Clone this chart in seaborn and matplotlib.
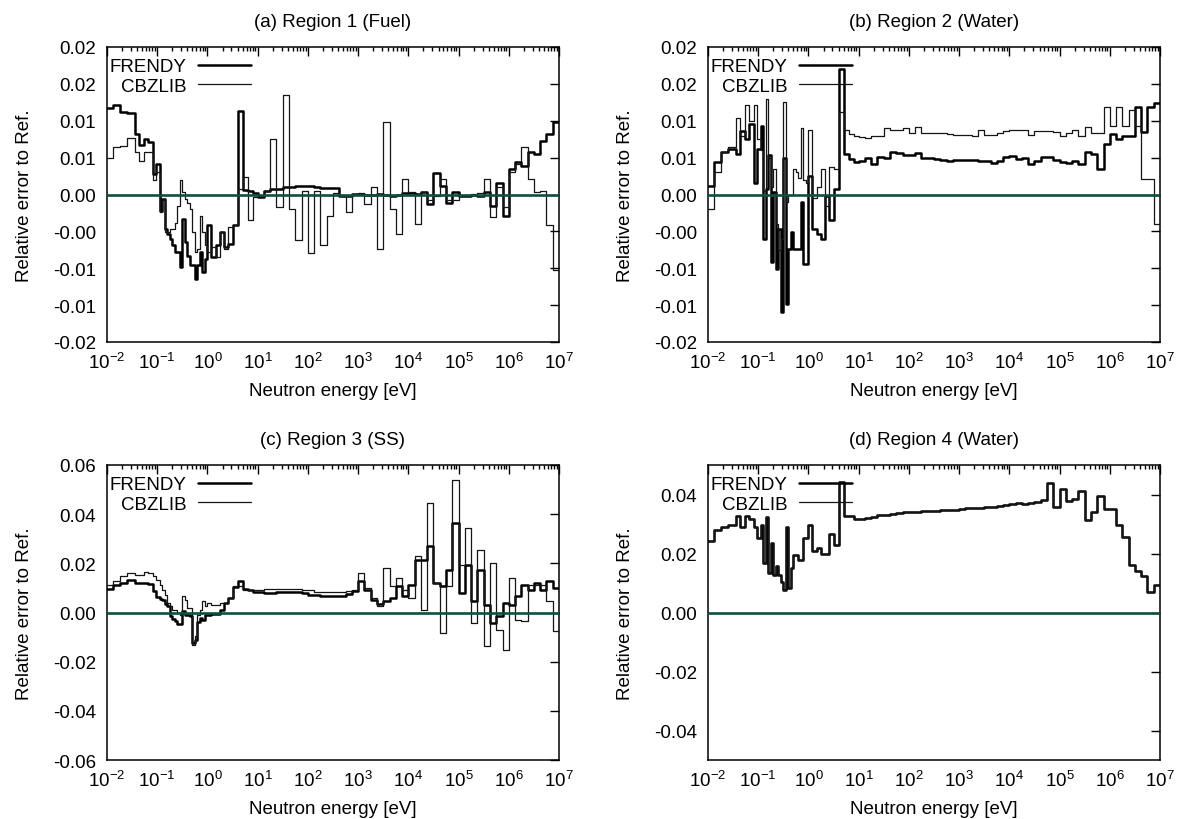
import numpy as np
import pandas as pd
import matplotlib
matplotlib.use("Agg")
import matplotlib.pyplot as plt
import seaborn as sns
from matplotlib.ticker import LogLocator, FixedLocator, FixedFormatter, NullFormatter, NullLocator

# ---------------- data ----------------
# group boundaries [eV]
edges = [0.01, 0.0129, 0.0178, 0.0251, 0.0355, 0.0437, 0.0550, 0.0646, 0.0832, 0.0955,
         0.112, 0.126, 0.141, 0.158, 0.178, 0.200, 0.224, 0.251, 0.282, 0.316,
         0.355, 0.398, 0.447, 0.501, 0.562, 0.631, 0.708, 0.794, 0.891, 1.00,
         1.20, 1.45, 1.74, 2.09, 2.51, 3.16, 3.98, 5.01, 6.31, 7.94, 10.0,
         13.3, 17.8, 23.7, 31.6, 42.2, 56.2, 75.0, 100.0,
         133.0, 178.0, 237.0, 316.0, 422.0, 562.0, 750.0, 1.0e3,
         1.33e3, 1.78e3, 2.37e3, 3.16e3, 4.22e3, 5.62e3, 7.5e3, 1.0e4,
         1.33e4, 1.78e4, 2.37e4, 3.16e4, 4.22e4, 5.62e4, 7.5e4, 1.0e5,
         1.33e5, 1.78e5, 2.37e5, 3.16e5, 4.22e5, 5.62e5, 7.5e5, 1.0e6,
         1.33e6, 1.78e6, 2.37e6, 3.16e6, 4.22e6, 5.62e6, 7.5e6, 1.0e7]

UNIT = 1e-3  # values below are relative errors in units of 1e-3

frendy_a = [11.7, 12.2, 11.2, 11.0, 8.2, 6.7, 7.5, 7.1, 2.8, 4.2,
            -2.2, -0.6, -4.7, -5.3, -6.0, -6.9, -7.8, -7.8, -9.8, -3.3,
            -6.5, -8.3, -9.6, -9.6, -11.4, -9.6, -7.8, -10.5, -8.7, -4.2,
            -8.5, -6.9, -5.1, -7.1, -6.7, -4.2, 11.3, 0.65, 0.5, 0.15,
            -0.3, 0.45, 0.8, 0.8, 1.0, 1.0, 1.1, 1.1, 1.1, 1.0, 0.9, 0.9,
            0.9, -0.2, -0.25, 0.05, 0.1, 0.0, 0.0, 0.05, -0.1, -0.25, 0.0, 0.2,
            0.2, 0.1, 0.3, -1.3, 2.9, 1.2, -1.15, 0.4, -0.15, -0.2, -0.1, -0.15,
            0.4, -1.5, 1.6, -2.9, 3.45, 4.35, 3.9, 5.7, 5.5, 7.3, 8.2, 9.8]
cbzlib_a = [4.9, 6.4, 6.6, 7.7, 5.7, 4.6, 5.7, 5.7, 1.9, 3.0,
            -2.4, -0.6, -5.1, -5.1, -4.7, -4.7, -3.8, -1.5, 1.9, 0.3,
            -0.6, -1.1, -2.0, -5.1, -7.8, -7.4, -2.9, -5.1, -6.9, -7.8,
            -7.1, -8.5, -5.1, -7.4, -4.4, -4.2, 0.7, 2.4, -3.5, -0.3,
            -0.15, 0.5, 7.5, -1.7, 13.5, -2.0, -6.2, 0.5, -8.0, 0.5, -6.9, -2.9,
            0.2, -0.1, -2.4, 0.0, 0.2, -1.3, 1.0, -7.4, 9.8, -2.0, -5.3, 2.1,
            0.3, -4.0, 0.3, -0.8, -0.15, 2.1, -0.8, -0.75, 0.0, 0.0, 0.1, 0.2,
            2.1, -3.1, 1.0, -1.7, 3.0, 4.1, 6.4, 2.1, 0.3, 0.5, -4.2, -10.3]

frendy_b = [1.1, 4.4, 5.8, 6.2, 5.5, 8.6, 7.5, 9.5, 1.6, 6.2,
            9.3, -6.0, 0.7, 5.3, -9.2, 0.3, -10.1, -4.7, -15.9, 5.0,
            -14.8, -7.4, -5.1, -7.4, -7.4, -7.4, -1.0, -9.4, -9.4, 2.5,
            -4.7, -5.3, -6.0, -0.15, -3.5, 0.7, 17.0, 5.5, 4.8, 4.35,
            4.5, 4.9, 4.2, 5.1, 5.0, 5.7, 5.6, 5.4, 5.3, 5.6, 5.0, 4.9,
            4.8, 4.7, 4.6, 4.65, 4.65, 4.7, 4.7, 4.6, 4.5, 4.3, 4.6, 5.1,
            5.2, 4.8, 5.0, 4.2, 4.6, 5.1, 5.1, 4.7, 4.4, 4.3, 4.6, 4.2,
            5.7, 5.5, 3.4, 6.8, 8.2, 7.5, 8.0, 8.0, 11.8, 8.5, 11.8, 12.4]
cbzlib_b = [-2.0, 3.0, 5.8, 6.5, 10.4, 8.0, 12.2, 10.0, 12.2, 7.5,
            6.0, 0.5, 12.9, 5.0, 1.0, 3.5, -4.0, -7.5, -6.0, 12.5,
            -1.0, 0.0, 0.0, 3.5, 3.0, 2.3, 9.0, 2.0, 1.5, 8.8,
            -0.5, 1.0, 3.5, -1.5, 3.7, 3.5, 11.2, 8.7, 8.2, 8.0,
            7.8, 7.6, 8.0, 7.9, 9.0, 8.8, 8.7, 9.0, 8.3, 9.2, 8.3, 8.3,
            8.3, 8.4, 8.2, 8.1, 8.1, 8.1, 7.9, 8.8, 8.1, 8.1, 8.3, 8.6,
            8.8, 8.8, 8.8, 8.1, 8.6, 8.6, 8.6, 8.5, 8.0, 8.3, 8.8, 7.9,
            9.1, 8.4, 8.4, 11.8, 9.3, 11.8, 9.3, 11.5, 9.3, 2.1, 2.1, -4.0]

frendy_c = [9.7, 11.3, 12.2, 13.1, 12.2, 12.2, 12.0, 11.5, 8.6, 6.5,
            5.5, 5.2, 3.5, 2.5, -1.6, -2.5, -3.6, -4.5, -4.5, 0.5,
            -0.9, -1.2, -1.6, -12.4, -11.0, -4.0, -2.2, -2.9, -1.0, -0.9,
            -0.5, -0.8, 1.0, 3.9, 5.9, 10.2, 12.7, 9.5, 9.0, 8.5,
            8.2, 7.8, 8.0, 8.2, 8.2, 8.3, 8.2, 7.8, 7.2, 7.0, 6.8, 6.6,
            6.6, 6.8, 7.5, 8.6, 12.7, 9.3, 5.2, 3.5, 4.5, 5.9, 10.6, 6.6,
            11.3, 21.4, 21.4, 27.2, 12.2, 10.6, 17.4, 36.3, 7.9, 19.4, 4.5, 17.4,
            3.2, -4.3, -1.6, 3.9, 3.2, 6.6, 11.3, 9.3, 12.0, 9.3, 12.7, 10.0]
cbzlib_c = [11.3, 12.7, 15.0, 16.0, 15.4, 15.4, 16.3, 16.0, 15.0, 13.3,
            11.0, 9.3, 7.2, 4.0, 2.5, 1.2, 1.2, 0.0, -0.9, 6.6,
            5.2, 1.8, 1.8, -13.3, -9.7, -1.0, 1.0, 4.5, 2.5, 3.9,
            3.2, 3.2, 4.0, 3.9, 5.9, 10.9, 10.9, 9.3, 9.3, 9.3,
            9.3, 9.5, 9.5, 9.5, 9.6, 9.5, 9.5, 9.3, 9.0, 8.5, 8.2, 8.2,
            8.2, 8.2, 8.6, 9.3, 16.0, 10.0, 5.9, 2.5, 18.1, 10.6, 14.0, 9.3,
            5.9, 22.8, 1.2, 44.7, 12.0, -8.3, 10.6, 53.9, 19.4, 34.3, -4.3, 25.5,
            -13.7, 20.1, -7.0, -15.2, 14.0, -2.9, -3.6, 11.3, 11.3, 11.3, 4.5, -7.6]

frendy_d = [24.3, 27.8, 28.9, 29.7, 32.7, 28.9, 32.7, 31.6, 28.9, 25.2,
            29.7, 16.7, 32.5, 13.3, 23.5, 12.8, 15.6, 12.8, 10.5, 7.7,
            29.1, 8.2, 15.0, 19.5, 19.5, 17.8, 17.8, 25.2, 25.2, 29.7,
            20.7, 21.8, 19.9, 19.9, 26.6, 22.9, 44.4, 32.7, 32.7, 31.8,
            31.6, 31.9, 32.5, 33.0, 33.1, 33.4, 33.6, 33.9, 34.0, 34.2, 34.3, 34.4,
            34.4, 34.6, 34.6, 34.8, 35.1, 35.3, 35.3, 35.5, 35.7, 35.9, 36.2, 36.5,
            36.8, 37.0, 36.7, 37.2, 37.4, 38.1, 44.0, 35.9, 41.9, 37.9, 38.4, 41.2,
            31.4, 33.9, 39.6, 35.2, 35.0, 29.7, 25.5, 16.1, 13.9, 12.4, 6.8, 9.4]
# in panel (d) the two curves coincide in the reference
cbzlib_d = [24.3, 27.8, 28.9, 29.7, 32.7, 28.9, 32.7, 31.6, 28.9, 25.2,
            29.7, 16.7, 32.5, 13.3, 23.5, 12.8, 15.6, 12.8, 10.5, 7.7,
            29.1, 8.2, 15.0, 19.5, 19.5, 17.8, 17.8, 25.2, 25.2, 29.7,
            20.7, 21.8, 19.9, 19.9, 26.6, 22.9, 44.4, 32.7, 32.7, 31.8,
            31.6, 31.9, 32.5, 33.0, 33.1, 33.4, 33.6, 33.9, 34.0, 34.2, 34.3, 34.4,
            34.4, 34.6, 34.6, 34.8, 35.1, 35.3, 35.3, 35.5, 35.7, 35.9, 36.2, 36.5,
            36.8, 37.0, 36.7, 37.2, 37.4, 38.1, 44.0, 35.9, 41.9, 37.9, 38.4, 41.2,
            31.4, 33.9, 39.6, 35.2, 35.0, 29.7, 25.5, 16.1, 13.9, 12.4, 6.8, 9.4]

titles = ["(a) Region 1 (Fuel)", "(b) Region 2 (Water)", "(c) Region 3 (SS)", "(d) Region 4 (Water)"]
ylims = [(-0.02, 0.02), (-0.02, 0.02), (-0.06, 0.06), (-0.05, 0.05)]
yticks_ab = [-0.02, -0.015, -0.01, -0.005, 0.0, 0.005, 0.01, 0.015, 0.02]
yticklabels_ab = ["-0.02", "-0.01", "-0.01", "-0.00", "0.00", "0.01", "0.01", "0.02", "0.02"]
yticks_c = [-0.06, -0.04, -0.02, 0.0, 0.02, 0.04, 0.06]
yticklabels_c = ["-0.06", "-0.04", "-0.02", "0.00", "0.02", "0.04", "0.06"]
yticks_d = [-0.04, -0.02, 0.0, 0.02, 0.04]
yticklabels_d = ["-0.04", "-0.02", "0.00", "0.02", "0.04"]
xlabel = "Neutron energy [eV]"
ylabel = "Relative error to Ref."

# ---------------- style ----------------
sns.set_theme(style="white")
plt.rcParams["font.family"] = ["Liberation Sans", "DejaVu Sans"]
plt.rcParams["mathtext.fontset"] = "custom"
plt.rcParams["mathtext.rm"] = "Liberation Sans"
plt.rcParams["mathtext.it"] = "Liberation Sans:italic"
plt.rcParams["mathtext.bf"] = "Liberation Sans:bold"
for k in ["axes.edgecolor", "text.color", "axes.labelcolor", "xtick.color", "ytick.color"]:
    plt.rcParams[k] = "black"

FS = 13.5
W, H = 1178, 820
fig = plt.figure(figsize=(W / 100, H / 100), dpi=100)

boxes = [(107, 48), (708, 48), (107, 466), (708, 466)]  # left, top in px
aw, ah = 452, 295

panels = [
    (frendy_a, cbzlib_a, yticks_ab, yticklabels_ab),
    (frendy_b, cbzlib_b, yticks_ab, yticklabels_ab),
    (frendy_c, cbzlib_c, yticks_c, yticklabels_c),
    (frendy_d, cbzlib_d, yticks_d, yticklabels_d),
]

for i, (fr, cb, yt, ytl) in enumerate(panels):
    lx, ty = boxes[i]
    ax = fig.add_axes([lx / W, 1 - (ty + ah) / H, aw / W, ah / H])
    df = pd.DataFrame({
        "energy": edges * 2,
        "error": [v * UNIT for v in fr + [fr[-1]]] + [v * UNIT for v in cb + [cb[-1]]],
        "code": ["FRENDY"] * len(edges) + ["CBZLIB"] * len(edges),
    })
    sns.lineplot(data=df[df.code == "FRENDY"], x="energy", y="error", ax=ax,
                 color="black", linewidth=1.8, drawstyle="steps-post",
                 estimator=None, sort=False, label="FRENDY", zorder=3)
    sns.lineplot(data=df[df.code == "CBZLIB"], x="energy", y="error", ax=ax,
                 color="#151515", linewidth=0.9, drawstyle="steps-post",
                 estimator=None, sort=False, label="CBZLIB", zorder=4)
    ax.axhline(0.0, color="#0b5040", linewidth=1.9, zorder=5)

    ax.set_xscale("log")
    ax.set_xlim(1e-2, 1e7)
    ax.set_ylim(*ylims[i])
    ax.xaxis.set_major_locator(LogLocator(base=10, numticks=20))
    ax.xaxis.set_minor_locator(LogLocator(base=10, subs=np.arange(2, 10), numticks=200))
    ax.xaxis.set_minor_formatter(NullFormatter())
    ax.yaxis.set_major_locator(FixedLocator(yt))
    ax.yaxis.set_major_formatter(FixedFormatter(ytl))
    ax.yaxis.set_minor_locator(NullLocator())
    ax.tick_params(which="both", direction="in", top=True, right=True,
                   labelsize=FS, width=1.0)
    ax.tick_params(which="major", length=6.5)
    ax.tick_params(which="minor", length=3)
    ax.tick_params(axis="x", which="major", pad=7)
    ax.tick_params(axis="y", which="major", pad=8)
    for s in ax.spines.values():
        s.set_linewidth(1.1)
        s.set_color("black")

    ax.set_xlabel(xlabel, fontsize=FS)
    ax.set_ylabel(ylabel, fontsize=FS)
    ax.xaxis.set_label_coords(0.5, -0.135)
    ax.yaxis.set_label_coords(-0.163, 0.5)
    ax.set_title(titles[i], fontsize=FS, y=1.072, pad=0)

    ax.legend(loc="upper left", bbox_to_anchor=(0.006, 0.962), frameon=False,
              markerfirst=False, fontsize=FS, borderpad=0, borderaxespad=0,
              handlelength=2.85, handletextpad=0.6, labelspacing=0.12)

fig.savefig("out.png", dpi=100)
